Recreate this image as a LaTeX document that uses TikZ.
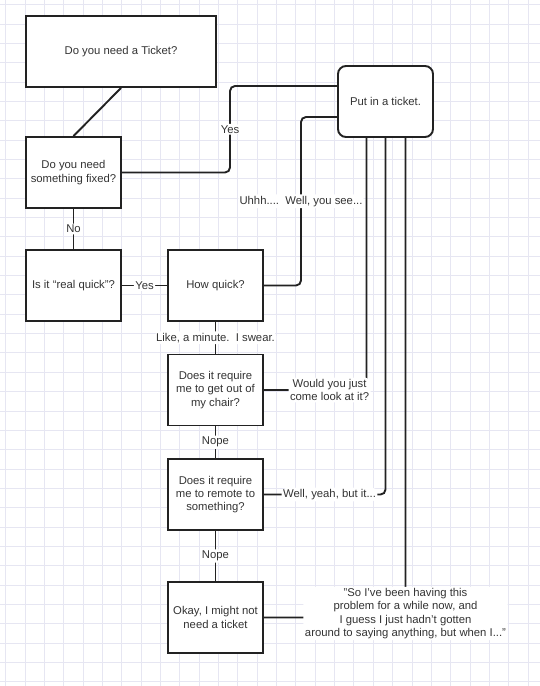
\documentclass[tikz,border=0pt]{standalone}
\usepackage{fontspec}
\setmainfont{Liberation Sans}
\usepackage{tikz}
\usetikzlibrary{calc}
\definecolor{grid_line}{RGB}{230, 230, 242}
\definecolor{box_text}{RGB}{51, 51, 51}
\definecolor{box_line}{RGB}{34, 34, 34}

\tikzset{
  qbox/.style={draw=box_line, line width=1.9pt, fill=white, minimum width=95pt,
    minimum height=71pt, align=center, text=box_text, inner sep=2pt},
  wire/.style={draw=box_line, line width=1.9pt, rounded corners=5pt},
  lbl/.style={fill=white, inner sep=1.5pt, text=box_text, align=center}
}

\begin{document}
\begin{tikzpicture}[x=1pt, y=-1pt, font=\fontsize{11.3}{13.3}\selectfont]
\useasboundingbox (0,0) rectangle (540,686);
\fill[white] (0,0) rectangle (540,686);
\begin{scope}[shift={(5.5,4.5)}]
\draw[grid_line, line width=0.7pt, step=19.35pt] (-10,690) grid (545,-10);
\end{scope}

% question boxes
\node[qbox, minimum width=190pt] (need) at (121,51.5) {Do you need a Ticket?};
\node[qbox] (fixed) at (73.5,172.5) {Do you need\\something fixed?};
\node[qbox] (quick) at (73.5,285.5) {Is it ``real quick''?};
\node[qbox] (howquick) at (215.5,285.5) {How quick?};
\node[qbox] (chair) at (215.5,390) {Does it require\\me to get out of\\my chair?};
\node[qbox] (remote) at (215.5,494.5) {Does it require\\me to remote to\\something?};
\node[qbox] (okay) at (215.5,617.5) {Okay, I might not\\need a ticket};
\node[qbox, rounded corners=8pt] (ticket) at (385.5,101.5) {Put in a ticket.};

\coordinate (yes_turn) at (230,86);
\coordinate (uhh_turn) at (301,117);
\coordinate (leg_a) at ($(ticket.south)+(-19,0)$);
\coordinate (leg_c) at ($(ticket.south)+(20,0)$);

\draw[wire] (need.south) -- (fixed.north);
\draw[wire] (fixed.south) -- node[lbl] {No} (quick.north);
\draw[wire] (quick.east) -- node[lbl] {Yes} (howquick.west);
\draw[wire] (howquick.south) -- node[lbl] {Like, a minute.\ \ I swear.} (chair.north);
\draw[wire] (chair.south) -- node[lbl] {Nope} (remote.north);
\draw[wire] (remote.south) -- node[lbl] {Nope} (okay.north);

% back to the ticket
\draw[wire] (fixed.east) -| node[lbl, pos=.75] {Yes} (yes_turn) -- (yes_turn -| ticket.west);
\draw[wire] (howquick.east) -| node[lbl, pos=.75] {Uhhh....\ \ Well, you see...} (uhh_turn) -- (uhh_turn -| ticket.west);
\draw[wire] (chair.east) -| node[lbl, pos=.32] {Would you just\\come look at it?} (leg_a);
\draw[wire] (remote.east) -| node[lbl, pos=.27] {Well, yeah, but it...} (ticket.south);
\draw[wire] (okay.east) -| node[lbl, pos=.5, yshift=4pt] {"So I've been having this\\problem for a while now, and\\I guess I just hadn't gotten\\around to saying anything, but when I..."} (leg_c);

\end{tikzpicture}
\end{document}
